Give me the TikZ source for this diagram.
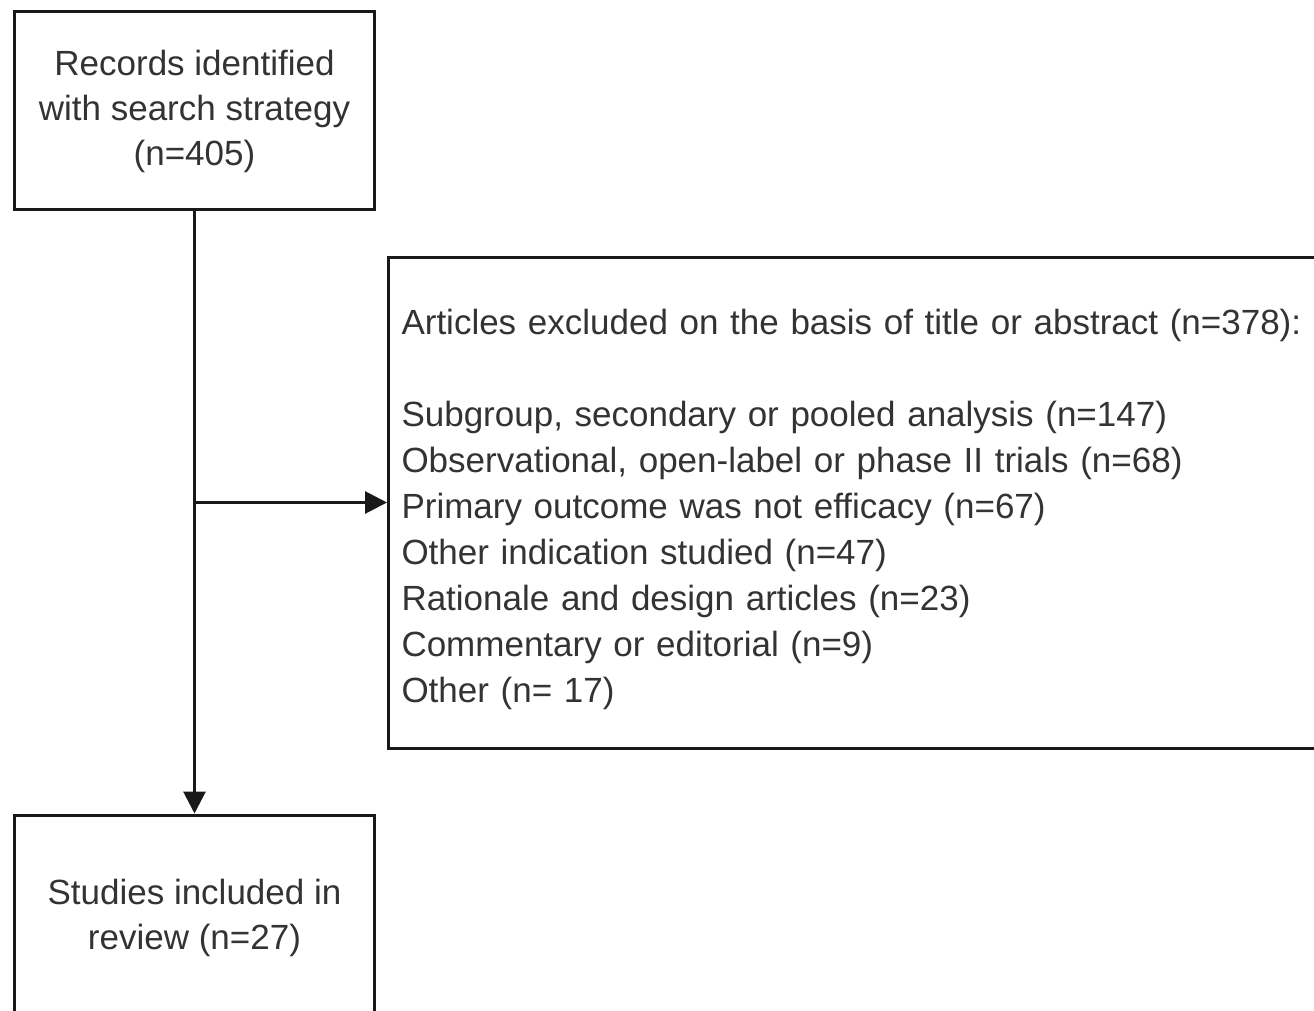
\documentclass[tikz,border=0pt]{standalone}
\usepackage{fontspec}
\setmainfont{Liberation Sans}
\usetikzlibrary{arrows.meta, positioning}
\tikzstyle{stage} = [rectangle, draw=black!90, line width=3pt, minimum width=360pt, minimum height=198pt, align=center, text=black!80, font=\fontsize{35}{45}\selectfont]
\tikzstyle{excluded} = [rectangle, draw=black!90, line width=3pt, minimum height=491pt, text width=927pt, inner xsep=13pt, align=left, anchor=west, text=black!80, font=\fontsize{35}{46}\selectfont]
\tikzstyle{flow} = [-{Triangle[length=22pt, width=22pt]}, line width=3pt, black!90]

\begin{document}
\begin{tikzpicture}[x=1pt, y=-1pt]
  \useasboundingbox (0,0) rectangle (1314,1011);
  \clip (0,0) rectangle (1314,1011);

  % stages
  \node[stage] (records) at (194.5,111) {Records identified\\with search strategy\\(n=405)};
  \node[stage, minimum height=200pt] (studies) at (194.5,915) {\rule{0pt}{32pt}Studies included in\\review (n=27)};

  % exclusions
  \node[excluded] (excl) at (387,502.5) {\rule{0pt}{40pt}Articles excluded on the basis of title or abstract (n=378):\\[46pt]
    Subgroup, secondary or pooled analysis (n=147)\\
    Observational, open-label or phase II trials (n=68)\\
    Primary outcome was not efficacy (n=67)\\
    Other indication studied (n=47)\\
    Rationale and design articles (n=23)\\
    Commentary or editorial (n=9)\\
    Other (n= 17)};

  % paths
  \coordinate (split) at (194.5,502.5);
  \draw[flow] (records) -- (studies);
  \draw[flow] (split) -- (excl);
\end{tikzpicture}
\end{document}
